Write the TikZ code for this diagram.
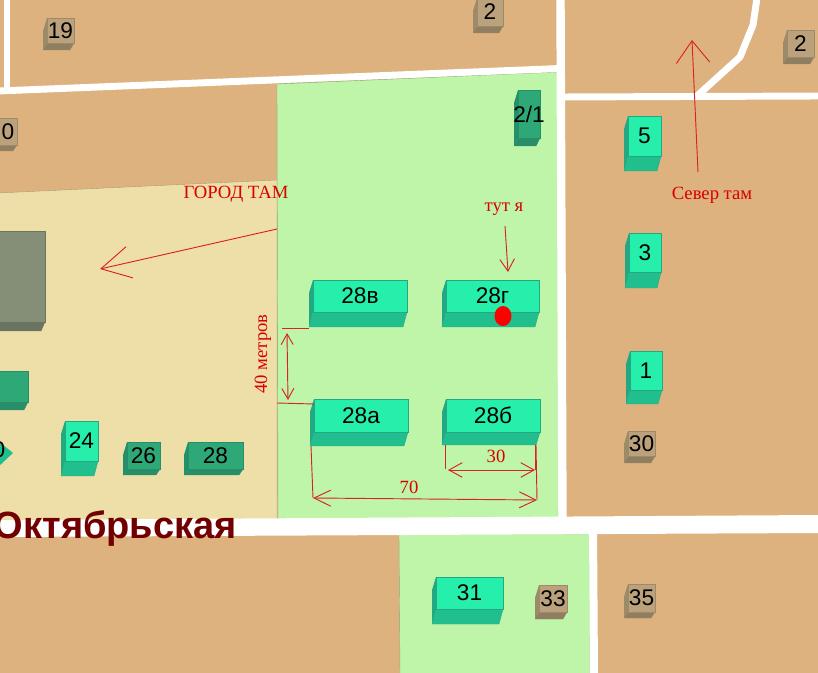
\documentclass[tikz,border=0pt]{standalone}
\usepackage{fontspec}
\setmainfont{Liberation Serif}
\newfontfamily\labelfont{Liberation Sans}
\usepackage{xcolor}
\usetikzlibrary{arrows.meta}
\definecolor{plotTan}{HTML}{DDB27E}
\definecolor{plotGreen}{HTML}{BFF5A8}
\definecolor{plotBeige}{HTML}{EEDFA9}
\definecolor{noteRed}{HTML}{D8231F}
\definecolor{TopBright}{HTML}{25EFAA}
\definecolor{FrontBright}{HTML}{21BE8E}
\definecolor{SideBright}{HTML}{24A883}
\definecolor{TopDark}{HTML}{2FA878}
\definecolor{FrontDark}{HTML}{288E6A}
\definecolor{SideDark}{HTML}{258F6C}
\definecolor{TopTan}{HTML}{BBA27C}
\definecolor{FrontTan}{HTML}{8F7F60}
\definecolor{SideTan}{HTML}{9C8A69}
\definecolor{TopGrey}{HTML}{858E76}
\definecolor{FrontGrey}{HTML}{6B7461}
\definecolor{SideGrey}{HTML}{6B7461}
\tikzset{
    road/.style={draw=white, line width=5.2pt, line join=round},
    plot/.style={draw=#1!70!black, line width=0.3pt, fill=#1},
    note/.style={text=red!85!black, font=\fontsize{14}{16}\selectfont, inner sep=0pt},
    guide/.style={draw=noteRed, line width=0.7pt},
    pointer/.style={guide, -{Straight Barb[length=#1]}},
    span/.style={guide, {Straight Barb[length=#1]}-{Straight Barb[length=#1]}},
    housenum/.style={font=\labelfont\fontsize{17}{17}\selectfont, inner sep=0pt, text=black}
}
% \house{kind}{name}{text}{left}{top}{right}{front edge}{bottom}
\newcommand{\house}[8]{
    \fill[Side#1] (#4,#5) -- (#4-4,#5+13) -- (#4-4,#8) -- (#4,#7) -- cycle;
    \fill[Front#1, draw=Side#1, line width=0.3pt] (#4,#7) -- (#6,#7) -- (#6-4,#8) -- (#4-4,#8) -- cycle;
    \fill[Top#1, draw=Side#1, line width=0.3pt] (#4,#5) rectangle (#6,#7);
    \node[housenum] (#2) at ({(#4+#6)/2},{(#5+#7)/2}) {#3};
}
\begin{document}
\begin{tikzpicture}[x=0.75pt, y=-0.75pt]
    \useasboundingbox (0,0) rectangle (818,673);
    \begin{scope}
    \clip (0,0) rectangle (818,673);
    \fill[plotTan] (0,0) rectangle (818,673);

    % plots
    \path[plot=plotBeige] (-2,193) -- (277,180) -- (277,520) -- (-2,520) -- cycle;
    \path[plot=plotGreen] (277,84) -- (558,72) -- (560,518) -- (278,520) -- cycle;
    \path[plot=plotGreen] (399,534) -- (590,534) -- (590,675) -- (400,675) -- cycle;

    % roads
    \draw[road] (7,-2) -- (7,90);
    \draw[road] (-2,91) -- (560,68.5);
    \draw[road, line width=6.3pt] (560.5,-2) -- (562.5,525);
    \draw[road] (561,97) -- (820,96);
    \draw[road] (697,96) -- (740,57) -- (753,25) -- (757,-2);
    \draw[road, line width=6pt] (593,525) -- (594,675);
    \fill[white] (-2,520) -- (820,515) -- (820,533) -- (-2,537) -- cycle;

    % houses on the left
    \house{Tan}{h19}{19}{47}{18}{74}{43}{50}
    \house{Tan}{h0}{0}{-1}{118}{17}{145}{151}
    \house{Grey}{hGrey}{}{-30}{231}{45}{322}{331}
    \house{Dark}{hBlock}{}{-30}{371}{28}{402}{410}
    \fill[FrontBright] (-3,440) -- (13,453) -- (-3,468) -- cycle;
    \node[housenum] (h20) at (-1,450) {0};
    \house{Bright}{h24}{24}{65}{421}{98}{461}{476}
    \house{Dark}{h26}{26}{127}{442}{160}{469}{475}
    \house{Dark}{h28}{28}{188}{442}{243}{469}{475}

    % the four houses in the middle
    \house{Bright}{hV}{28в}{313}{280}{407}{312}{327}
    \house{Bright}{hG}{28г}{446}{280}{539}{312}{327}
    \house{Bright}{hA}{28а}{314}{399}{408}{432}{446}
    \house{Bright}{hB}{28б}{446}{399}{540}{432}{445}

    % top and right
    \house{Tan}{hTwoTop}{2}{477}{-2}{503}{26}{33}
    \house{Dark}{hTwoOne}{2/1}{518}{90}{540}{138}{146}
    \house{Tan}{hTwoRight}{2}{787}{30}{814}{57}{64}
    \house{Bright}{hFive}{5}{628}{116}{661}{156}{171}
    \house{Bright}{hThree}{3}{629}{233}{661}{272}{288}
    \house{Bright}{hOne}{1}{630}{351}{662}{390}{404}
    \house{Tan}{hThirty}{30}{628}{431}{655}{456}{463}

    % below the street
    \house{Bright}{hThirtyOne}{31}{436}{577}{503}{609}{624}
    \house{Tan}{hThirtyThree}{33}{539}{585}{567}{612}{619}
    \house{Tan}{hThirtyFive}{35}{628}{584}{655}{612}{618}

    \fill[red] (503,316) ellipse [x radius=8.5, y radius=10];

    % street name
    \node[font=\labelfont\bfseries\fontsize{28.5}{28.5}\selectfont, text=red!45!black, anchor=base east, inner sep=0pt] (street) at (237,538) {Октябрьская};

    % notes
    \node[note] (city) at (236,194) {ГОРОД ТАМ};
    \node[note] (here) at (504,209) {тут я};
    \node[note] (north) at (712,195) {Север там};
    \node[note, rotate=90] (dist) at (263,354) {40 метров};
    \node[note] (thirty) at (496,456) {30};
    \node[note] (seventy) at (409,487) {70};

    % pointers
    \coordinate (cityS) at (277,229);
    \coordinate (cityE) at (100,269);
    \coordinate (northS) at (698,172);
    \coordinate (northE) at (692,40);
    \coordinate (hereS) at (505,226);
    \coordinate (hereE) at (508,272);
    \draw[pointer={22pt, width=24pt}] (cityS) -- (cityE);
    \draw[pointer={16.5pt, width=25pt}] (northS) -- (northE);
    \draw[pointer={9pt, width=11pt}] (hereS) -- (hereE);

    % dimension lines
    \coordinate (gapA) at (282,328);
    \coordinate (gapB) at (309,328);
    \coordinate (gapC) at (277,403);
    \coordinate (gapD) at (314,404);
    \coordinate (gapU) at (287,333);
    \coordinate (gapL) at (288,400);
    \coordinate (tenA) at (445,445);
    \coordinate (tenB) at (445,469);
    \coordinate (tenC) at (535,445);
    \coordinate (tenD) at (535,470);
    \coordinate (tenE) at (448,470);
    \coordinate (farA) at (311,446);
    \coordinate (farB) at (313,498);
    \coordinate (farC) at (536,445);
    \coordinate (farD) at (537,500);
    \draw[guide] (gapA) -- (gapB);
    \draw[guide] (gapC) -- (gapD);
    \draw[guide] (tenA) -- (tenB);
    \draw[guide] (tenC) -- (tenD);
    \draw[guide] (farA) -- (farB);
    \draw[guide] (farC) -- (farD);
    \draw[span={8pt, width=9pt}] (gapU) -- (gapL);
    \draw[span={10pt, width=11pt}] (tenE) -- (tenD);
    \draw[span={12.5pt, width=12pt}] (farB) -- (farD);
    \end{scope}
\end{tikzpicture}
\end{document}
